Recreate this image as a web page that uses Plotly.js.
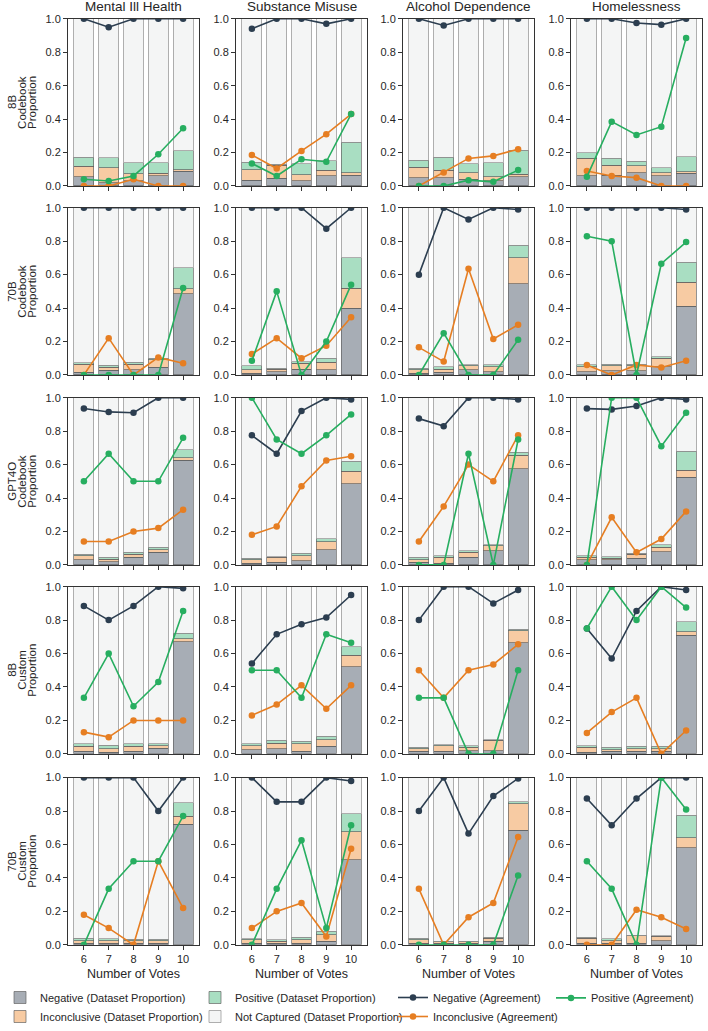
<!DOCTYPE html>
<html>
<head>
<meta charset="utf-8">
<script src="https://cdn.plot.ly/plotly-3.0.1.min.js"></script>
<style>html,body{margin:0;padding:0;background:#fff;}#chart{width:708px;height:1031px;}</style>
</head>
<body>
<div id="chart"></div>
<script>
const votes = [6, 7, 8, 9, 10];
const topics = ['Mental Ill Health', 'Substance Misuse', 'Alcohol Dependence', 'Homelessness'];
const rowLabels = [['8B', 'Codebook', 'Proportion'], ['70B', 'Codebook', 'Proportion'], ['GPT4O', 'Codebook', 'Proportion'], ['8B', 'Custom', 'Proportion'], ['70B', 'Custom', 'Proportion']];
const yTickVals = [0, 0.2, 0.4, 0.6, 0.8, 1.0];
const yTickText = ['0.0', '0.2', '0.4', '0.6', '0.8', '1.0'];

// Dataset proportions (segment heights) [row][topic][vote]
const negShare = [
 [[0.055,0.02,0.03,0.06,0.087],[0.035,0.045,0.03,0.06,0.065],[0.05,0.05,0.04,0.03,0.055],[0.06,0.065,0.08,0.06,0.075]],
 [[0.015,0.028,0.03,0.045,0.485],[0.01,0.02,0.035,0.03,0.4],[0.01,0.015,0.03,0.02,0.545],[0.02,0.025,0.025,0.05,0.41]],
 [[0.03,0.02,0.045,0.075,0.625],[0.01,0.015,0.025,0.09,0.485],[0.015,0.01,0.045,0.085,0.575],[0.03,0.03,0.04,0.08,0.525]],
 [[0.015,0.01,0.015,0.035,0.67],[0.025,0.03,0.015,0.045,0.52],[0.015,0.015,0.02,0.02,0.665],[0.01,0.015,0.015,0.015,0.71]],
 [[0.01,0.01,0.01,0.01,0.72],[0.01,0.01,0.01,0.02,0.51],[0.01,0.01,0.01,0.02,0.685],[0.01,0.01,0.01,0.025,0.58]]
];
const incShare = [
 [[0.063,0.088,0.042,0.015,0.011],[0.062,0.08,0.037,0.035,0.015],[0.063,0.045,0.038,0.025,0.015],[0.105,0.06,0.04,0.018,0.01]],
 [[0.05,0.017,0.035,0.045,0.03],[0.02,0.015,0.035,0.045,0.12],[0.02,0.02,0.025,0.03,0.155],[0.03,0.03,0.03,0.05,0.145]],
 [[0.025,0.015,0.02,0.015,0.015],[0.02,0.03,0.03,0.05,0.075],[0.015,0.035,0.03,0.03,0.08],[0.015,0.01,0.025,0.025,0.04]],
 [[0.03,0.02,0.03,0.015,0.02],[0.025,0.035,0.045,0.04,0.07],[0.015,0.035,0.02,0.06,0.07],[0.03,0.01,0.015,0.015,0.02]],
 [[0.015,0.015,0.015,0.015,0.05],[0.02,0.01,0.02,0.04,0.165],[0.02,0.01,0.01,0.02,0.16],[0.03,0.015,0.045,0.025,0.06]]
];
const posShare = [
 [[0.054,0.06,0.068,0.065,0.112],[0.046,0.005,0.065,0.055,0.182],[0.042,0.077,0.054,0.085,0.145],[0.035,0.04,0.028,0.032,0.09]],
 [[0.007,0.013,0.01,0.01,0.125],[0.025,0.005,0.01,0.025,0.18],[0.01,0.015,0.005,0.01,0.075],[0.01,0.01,0.01,0.01,0.12]],
 [[0.008,0.01,0.01,0.015,0.05],[0.01,0.005,0.015,0.015,0.06],[0.015,0.01,0.01,0.005,0.02],[0.01,0.01,0.005,0.015,0.115]],
 [[0.017,0.022,0.015,0.012,0.03],[0.012,0.015,0.015,0.02,0.05],[0.01,0.005,0.01,0.005,0.01],[0.01,0.015,0.015,0.015,0.06]],
 [[0.015,0.01,0.007,0.007,0.08],[0.005,0.01,0.015,0.02,0.11],[0.01,0.002,0.002,0.005,0.01],[0.005,0.01,0.002,0.005,0.135]]
];

// Agreement [row][topic][vote]
const negAgree = [
 [[1,0.95,1,1,1],[0.94,1,1,0.97,1],[1,0.96,1,1,1],[1,1,0.975,0.965,1]],
 [[1,1,1,1,1],[1,1,1,0.875,1],[0.6,1,0.93,1,0.99],[1,1,1,1,0.99]],
 [[0.935,0.915,0.91,1,1],[0.775,0.665,0.92,1,0.99],[0.875,0.83,1,1,0.99],[0.935,0.93,0.95,1,0.99]],
 [[0.885,0.8,0.885,1,0.99],[0.54,0.715,0.775,0.815,0.95],[0.8,1,1,0.9,0.98],[0.75,0.57,0.855,1,0.98]],
 [[1,1,1,0.8,1],[1,0.855,0.855,1,0.98],[0.8,1,0.665,0.89,0.995],[0.875,0.715,0.875,1,1]]
];
const incAgree = [
 [[0,0,0.04,0,0],[0.185,0.105,0.21,0.31,0.43],[0,0.08,0.165,0.18,0.22],[0.09,0.06,0.05,0,0]],
 [[0,0.22,0,0.105,0.07],[0.125,0.22,0.1,0.175,0.345],[0.165,0.08,0.635,0.215,0.30],[0.06,0,0.06,0.045,0.085]],
 [[0.14,0.14,0.2,0.22,0.33],[0.18,0.23,0.47,0.625,0.65],[0.14,0.35,0.6,0.5,0.775],[0,0.285,0.075,0.155,0.32]],
 [[0.13,0.1,0.2,0.2,0.2],[0.23,0.295,0.41,0.27,0.41],[0.5,0.335,0.5,0.535,0.655],[0.125,0.25,0.335,0,0.14]],
 [[0.18,0.1,0,0.5,0.22],[0.1,0.2,0.25,0.05,0.575],[0.335,0,0.165,0.25,0.645],[0,0,0.21,0.165,0.095]]
];
const posAgree = [
 [[0.04,0.03,0.06,0.19,0.345],[0.135,0.06,0.16,0.145,0.43],[0,0,0.035,0.025,0.095],[0.055,0.385,0.305,0.355,0.885]],
 [[0,0,0,0,0.52],[0.085,0.5,0,0.2,0.54],[0,0.25,0,0,0.21],[0.83,0.8,0,0.665,0.795]],
 [[0.5,0.665,0.5,0.5,0.76],[1,0.75,0.665,0.775,0.9],[0,0,0.665,0,0.75],[0,1,1,0.71,0.91]],
 [[0.335,0.6,0.285,0.43,0.855],[0.5,0.5,0.335,0.715,0.665],[0.335,0.335,0,0,0.5],[0.75,1,0.8,1,0.875]],
 [[0,0.335,0.5,0.5,0.77],[0,0.335,0.625,0.1,0.715],[0,0,0,0,0.415],[0.5,0.335,0,1,0.81]]
];

const W = 708, H = 1031;
const colLeft = [68, 236, 403, 571];
const colW = 131;
const rowTop = [19, 210, 402, 593, 786];
const rowH = 169;
const FONT = 'Liberation Sans, Arial, Helvetica, sans-serif';
const TXT = '#262626';

const C = {
  negBar: '#a7adb5', incBar: '#f7cba3', posBar: '#a9dec2', ncBar: '#f4f5f5',
  negLine: '#2c3e50', incLine: '#e67e22', posLine: '#27ae60'
};

const traces = [];
const layout = {
  width: W, height: H, autosize: false,
  margin: {l: 0, r: 0, t: 0, b: 0},
  paper_bgcolor: '#ffffff', plot_bgcolor: '#ffffff',
  barmode: 'stack', bargap: 0.2,
  font: {family: FONT, color: TXT, size: 11},
  showlegend: true,
  annotations: []
};

for (let r = 0; r < 5; r++) {
  for (let c = 0; c < 4; c++) {
    const k = r * 4 + c + 1;
    const xa = k === 1 ? 'x' : 'x' + k;
    const ya = k === 1 ? 'y' : 'y' + k;
    const first = (k === 1);
    const neg = negShare[r][c], inc = incShare[r][c], pos = posShare[r][c];
    const nc = neg.map((v, i) => 1 - v - inc[i] - pos[i]);
    const edge = {color: 'rgba(95,95,95,0.75)', width: 0.9};
    traces.push({type: 'bar', x: votes, y: neg, xaxis: xa, yaxis: ya, name: 'Negative (Dataset Proportion)',
      marker: {color: C.negBar, line: edge}, showlegend: first, legend: 'legend', legendrank: 1, hoverinfo: 'skip'});
    traces.push({type: 'bar', x: votes, y: inc, xaxis: xa, yaxis: ya, name: 'Inconclusive (Dataset Proportion)',
      marker: {color: C.incBar, line: edge}, showlegend: first, legend: 'legend', legendrank: 2, hoverinfo: 'skip'});
    traces.push({type: 'bar', x: votes, y: pos, xaxis: xa, yaxis: ya, name: 'Positive (Dataset Proportion)',
      marker: {color: C.posBar, line: edge}, showlegend: first, legend: 'legend2', legendrank: 1, hoverinfo: 'skip'});
    traces.push({type: 'bar', x: votes, y: nc, xaxis: xa, yaxis: ya, name: 'Not Captured (Dataset Proportion)',
      marker: {color: C.ncBar, line: {color: 'rgba(150,150,150,0.85)', width: 0.9}}, showlegend: first, legend: 'legend2', legendrank: 2, hoverinfo: 'skip'});
    const lineTrace = (vals, color, name, lg, rank) => ({
      type: 'scatter', mode: 'lines+markers', x: votes, y: vals, xaxis: xa, yaxis: ya, name: name,
      line: {color: color, width: 1.6}, marker: {color: color, size: 6.5},
      showlegend: first, legend: lg, legendrank: rank, cliponaxis: true, hoverinfo: 'skip'
    });
    traces.push(lineTrace(negAgree[r][c], C.negLine, 'Negative (Agreement)', 'legend3', 1));
    traces.push(lineTrace(incAgree[r][c], C.incLine, 'Inconclusive (Agreement)', 'legend3', 2));
    traces.push(lineTrace(posAgree[r][c], C.posLine, 'Positive (Agreement)', 'legend4', 1));

    const x0 = colLeft[c] / W, x1 = (colLeft[c] + colW) / W;
    const y1 = 1 - rowTop[r] / H, y0 = 1 - (rowTop[r] + rowH) / H;
    const bottom = (r === 4);
    layout['xaxis' + (k === 1 ? '' : k)] = {
      domain: [x0, x1], anchor: ya, range: [5.36, 10.64],
      tickvals: votes, ticktext: votes.map(String), showticklabels: bottom,
      ticks: 'outside', ticklen: 4, tickwidth: 1, tickcolor: '#333',
      showline: true, linecolor: '#333', linewidth: 1, mirror: true,
      showgrid: false, zeroline: false, fixedrange: true,
      tickfont: {size: 11, color: TXT, family: FONT},
      title: bottom ? {text: 'Number of Votes', font: {size: 12.5, color: TXT, family: FONT}, standoff: 5} : {text: ''}
    };
    layout['yaxis' + (k === 1 ? '' : k)] = {
      domain: [y0, y1], anchor: xa, range: [0, 1],
      tickvals: yTickVals, ticktext: yTickText,
      ticks: 'outside', ticklen: 4, tickwidth: 1, tickcolor: '#333',
      showline: true, linecolor: '#333', linewidth: 1, mirror: true,
      showgrid: false, zeroline: false, fixedrange: true,
      tickfont: {size: 11, color: TXT, family: FONT}
    };
  }
}

topics.forEach((t, c) => {
  layout.annotations.push({
    text: t, xref: 'paper', yref: 'paper', x: (colLeft[c] + colW / 2) / W, y: 1 - 7 / H,
    xanchor: 'center', yanchor: 'middle', showarrow: false,
    font: {size: 13.5, color: TXT, family: FONT}
  });
});
const labelX = [12.5, 22.5, 32.5];
rowLabels.forEach((lines, r) => {
  lines.forEach((t, i) => {
    layout.annotations.push({
      text: t, xref: 'paper', yref: 'paper', x: labelX[i] / W, y: 1 - (rowTop[r] + rowH / 2) / H,
      xanchor: 'center', yanchor: 'middle', showarrow: false, textangle: -90,
      font: {size: 11.5, color: TXT, family: FONT}
    });
  });
});

const legBase = {orientation: 'v', xanchor: 'left', yanchor: 'top', y: 1 - 994 / H,
  bgcolor: 'rgba(0,0,0,0)', borderwidth: 0, traceorder: 'normal',
  font: {size: 11, color: TXT, family: FONT}, itemclick: false, itemdoubleclick: false};
layout.legend = Object.assign({}, legBase, {x: 0 / W});
layout.legend2 = Object.assign({}, legBase, {x: 195 / W});
layout.legend3 = Object.assign({}, legBase, {x: 393 / W});
layout.legend4 = Object.assign({}, legBase, {x: 551 / W});

Plotly.newPlot('chart', traces, layout, {staticPlot: true, displayModeBar: false});
</script>
</body>
</html>
